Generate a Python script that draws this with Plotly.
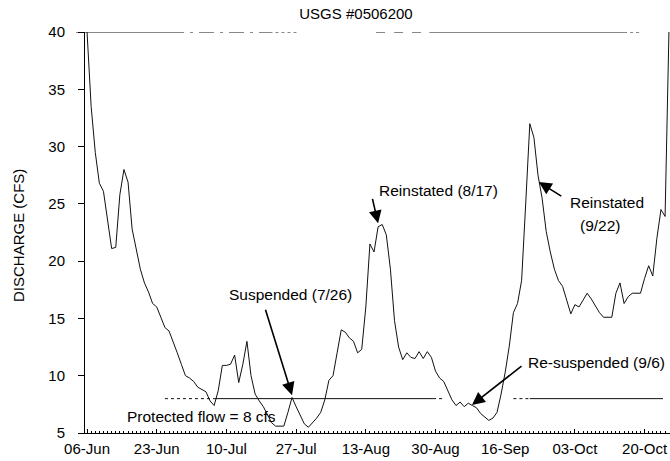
import pandas as pd
import plotly.graph_objects as go

# Daily mean discharge (cfs), starting 06-Jun
START_DATE = "1998-06-06"
discharge_cfs = [
    40.0, 33.5, 29.5, 26.8, 26.1, 23.6, 21.1, 21.2, 25.8, 28.0,   # 06-15 Jun
    26.9, 22.8, 21.0, 19.3, 18.1, 17.3, 16.3, 16.0, 15.1, 14.2,   # 16-25 Jun
    13.9, 13.0, 12.0, 11.0, 10.0, 9.8, 9.5, 9.0, 8.8, 8.6,        # 26 Jun-05 Jul
    7.8, 7.4, 8.7, 10.9, 10.9, 11.0, 11.8, 9.4, 11.0, 13.0,       # 06-15 Jul
    10.0, 8.4, 7.8, 7.3, 6.6, 5.9, 5.6, 5.6, 5.6, 6.8,            # 16-25 Jul
    8.1, 7.3, 6.5, 5.8, 5.5, 5.9, 6.3, 6.8, 7.9, 9.6,             # 26 Jul-04 Aug
    10.0, 12.0, 14.0, 13.8, 13.3, 13.0, 12.0, 12.3, 16.0, 21.5,   # 05-14 Aug
    20.8, 23.0, 23.2, 22.3, 19.3, 14.8, 12.5, 11.4, 12.0, 11.6,   # 15-24 Aug
    11.5, 12.1, 11.5, 12.1, 11.6, 10.4, 9.8, 9.5, 8.7, 7.9,       # 25 Aug-03 Sep
    7.4, 7.7, 7.3, 7.6, 7.4, 7.2, 6.7, 6.4, 6.1, 6.3,             # 04-13 Sep
    6.8, 8.4, 10.3, 12.6, 15.5, 16.3, 18.3, 25.0, 32.0, 30.8,     # 14-23 Sep
    27.5, 25.5, 22.6, 20.8, 19.3, 18.3, 17.8, 16.6, 15.4, 16.2,   # 24 Sep-03 Oct
    16.0, 16.6, 17.2, 16.7, 16.1, 15.5, 15.1, 15.1, 15.1, 17.2,   # 04-13 Oct
    18.1, 16.3, 16.9, 17.2, 17.2, 17.2, 18.5, 19.6, 18.7, 22.0,   # 14-23 Oct
    24.5, 23.9, 41.0,                                             # 24-26 Oct
]

PROTECTED_FLOW_CFS = 8
# periods (day offsets from start) over which the protected-flow line is drawn
protected_spans = [(19.0, 31.0, "dot"), (31.0, 84.4, "solid"), (84.4, 87.3, "dot"),
                   (104.0, 108.0, "dot"), (108.0, 140.5, "solid")]

tick_labels = ["06-Jun", "23-Jun", "10-Jul", "27-Jul", "13-Aug",
               "30-Aug", "16-Sep", "03-Oct", "20-Oct"]
y_ticks = [5, 10, 15, 20, 25, 30, 35, 40]

FONT = "Liberation Sans, Arial, Helvetica, sans-serif"

start = pd.Timestamp(START_DATE)
dates = pd.date_range(start, periods=len(discharge_cfs), freq="D")
tick_dates = [start + pd.Timedelta(days=17 * i) for i in range(len(tick_labels))]


def day(offset):
    return start + pd.Timedelta(days=offset)


fig = go.Figure()

fig.add_trace(go.Scatter(
    x=dates, y=discharge_cfs, mode="lines",
    line=dict(color="#111111", width=1),
    hoverinfo="x+y", showlegend=False,
))

for a, b, dash in protected_spans:
    fig.add_trace(go.Scatter(
        x=[day(a), day(b)], y=[PROTECTED_FLOW_CFS, PROTECTED_FLOW_CFS],
        mode="lines", line=dict(color="#111111", width=1, dash=dash),
        hoverinfo="skip", showlegend=False,
    ))

# upper border of the plot frame
for a, b, dash in [(-0.5, 20.0, "solid"), (20.0, 44.5, "longdashdot"), (44.5, 51.5, "dot"),
                   (70.5, 83.5, "dash"), (83.5, 131.0, "solid"), (131.0, 134.8, "dot")]:
    fig.add_shape(type="line", xref="x", yref="y",
                  x0=day(a), x1=day(b), y0=40, y1=40,
                  line=dict(color="#111111", width=1, dash=dash))

# left stub of the frame top at the 40 tick
fig.add_shape(type="line", xref="paper", yref="y", x0=-9 / 585, x1=0, y0=40, y1=40,
              line=dict(color="#111111", width=1))


def arrow(tip_day, tip_val, ax, ay):
    fig.add_annotation(
        x=day(tip_day), y=tip_val, xref="x", yref="y", text="",
        showarrow=True, ax=ax, ay=ay, arrowhead=2, arrowsize=1.6,
        arrowwidth=1.6, arrowcolor="#000000", standoff=0, startstandoff=0,
        font=dict(size=1),
    )


def label(text, px, py, anchor="left"):
    fig.add_annotation(
        x=(px - 85) / 585, y=(433 - py) / 401, xref="paper", yref="paper",
        text=text, showarrow=False, xanchor=anchor, yanchor="middle",
        font=dict(family=FONT, size=15.5, color="#000000"),
    )


arrow(50.0, 8.3, -27, -87)
arrow(71.0, 23.3, -6, -26)
arrow(110.2, 26.9, 24, 15)
arrow(93.9, 7.45, 51, -40)

label("Suspended (7/26)", 227, 294)
label("Reinstated (8/17)", 377, 190)
label("Reinstated", 568, 202)
label("(9/22)", 578, 225)
label("Re-suspended (9/6)", 526, 362)
label("Protected flow = 8 cfs", 125, 416)

# y-axis title
fig.add_annotation(
    x=(18 - 85) / 585, y=(433 - 236) / 401, xref="paper", yref="paper",
    text="DISCHARGE (CFS)", textangle=-90, showarrow=False,
    xanchor="center", yanchor="middle",
    font=dict(family=FONT, size=15, color="#000000"),
)

fig.update_layout(
    width=670, height=461,
    margin=dict(l=85, r=0, t=32, b=28),
    paper_bgcolor="white", plot_bgcolor="white",
    font=dict(family=FONT, size=15, color="#000000"),
    title=dict(text="USGS #0506200", x=356 / 670, xref="container",
               y=1 - 14 / 461, yref="container", xanchor="center", yanchor="middle",
               font=dict(family=FONT, size=15, color="#000000")),
    showlegend=False,
)

fig.update_xaxes(
    type="date",
    range=[start - pd.Timedelta(hours=12), start + pd.Timedelta(days=142.2)],
    tickvals=tick_dates, ticktext=tick_labels,
    ticks="inside", ticklen=4, tickwidth=1, tickcolor="#000000",
    minor=dict(ticks="inside", ticklen=2, tickwidth=1, tickcolor="#000000",
               dtick=86400000, showgrid=False),
    showline=True, linecolor="#000000", linewidth=1,
    showgrid=False, zeroline=False,
    tickfont=dict(family=FONT, size=15, color="#000000"),
    ticklabelstandoff=2,
)

fig.update_yaxes(
    range=[5, 40], tickvals=y_ticks,
    ticks="outside", ticklen=6, tickwidth=1, tickcolor="#000000",
    showline=True, linecolor="#000000", linewidth=1,
    showgrid=False, zeroline=False,
    tickfont=dict(family=FONT, size=15, color="#000000"),
    ticklabelstandoff=10,
)

fig.write_html("out.html")
